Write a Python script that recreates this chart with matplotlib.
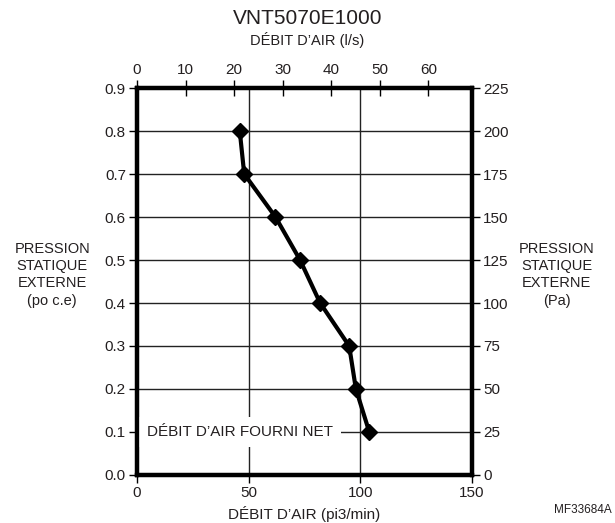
import matplotlib
matplotlib.use("Agg")
import matplotlib.pyplot as plt

plt.rcParams["font.family"] = ["Liberation Sans", "DejaVu Sans"]

# curve data: airflow (pi3/min) vs external static pressure (po c.e)
airflow_cfm = [104, 98, 95, 82, 73, 62, 48, 46]
pressure_inwc = [0.1, 0.2, 0.3, 0.4, 0.5, 0.6, 0.7, 0.8]

cfm_ticks = [0, 50, 100, 150]
ls_ticks = [0, 10, 20, 30, 40, 50, 60]
inwc_ticks = [0.0, 0.1, 0.2, 0.3, 0.4, 0.5, 0.6, 0.7, 0.8, 0.9]
pa_ticks = [0, 25, 50, 75, 100, 125, 150, 175, 200, 225]

text_color = "#231f20"

fig = plt.figure(figsize=(6.15, 5.23), dpi=100)
ax = fig.add_axes([0.2228, 0.0918, 0.5447, 0.7399])

# grid
for y in inwc_ticks[1:-1]:
    ax.axhline(y, color="#222222", linewidth=1.0, zorder=1)
for x in cfm_ticks[1:-1]:
    ax.axvline(x, color="#222222", linewidth=1.0, zorder=1)

ax.plot(airflow_cfm, pressure_inwc, color="black", linewidth=3,
        marker="D", markersize=8.5, zorder=4)

ax.text(4.5, 0.1, "DÉBIT D’AIR FOURNI NET", fontsize=11, ha="left", va="center",
        color=text_color, zorder=3,
        bbox=dict(boxstyle="square,pad=0.55", facecolor="white", edgecolor="none"))

ax.set_xlim(0, 150)
ax.set_ylim(0, 0.9)
ax.set_xticks(cfm_ticks)
ax.set_yticks(inwc_ticks)
ax.set_yticklabels([f"{v:.1f}" for v in inwc_ticks])
ax.tick_params(axis="both", direction="out", length=6, width=1, labelsize=11, pad=2,
               labelcolor=text_color)
for s in ax.spines.values():
    s.set_linewidth(3)

ax.set_xlabel("DÉBIT D’AIR (pi3/min)", fontsize=11, labelpad=4, color=text_color)

# right axis in Pa
axr = ax.twinx()
axr.set_ylim(0, 225)
axr.set_yticks(pa_ticks)
axr.tick_params(axis="y", direction="out", length=6, width=1, labelsize=11, pad=2,
                labelcolor=text_color)
for s in axr.spines.values():
    s.set_linewidth(3)

# top axis in l/s
axt = ax.twiny()
axt.set_xlim(0, 69)
axt.set_xticks(ls_ticks)
axt.tick_params(axis="x", direction="inout", length=12, width=1, labelsize=11, pad=2,
                labelcolor=text_color)
for s in axt.spines.values():
    s.set_linewidth(3)

fig.text(0.5, 0.965, "VNT5070E1000", ha="center", va="center", fontsize=15, color=text_color)
fig.text(0.5, 0.923, "DÉBIT D’AIR (l/s)", ha="center", va="center", fontsize=10.5,
         color=text_color)

fig.text(0.085, 0.475, "PRESSION\nSTATIQUE\nEXTERNE\n(po c.e)", ha="center", va="center",
         fontsize=10.5, linespacing=1.3, color=text_color)
fig.text(0.905, 0.475, "PRESSION\nSTATIQUE\nEXTERNE\n(Pa)", ha="center", va="center",
         fontsize=10.5, linespacing=1.3, color=text_color)

fig.text(0.948, 0.025, "MF33684A", ha="center", va="center", fontsize=8.5, color=text_color)

fig.savefig("out.png", dpi=100)
